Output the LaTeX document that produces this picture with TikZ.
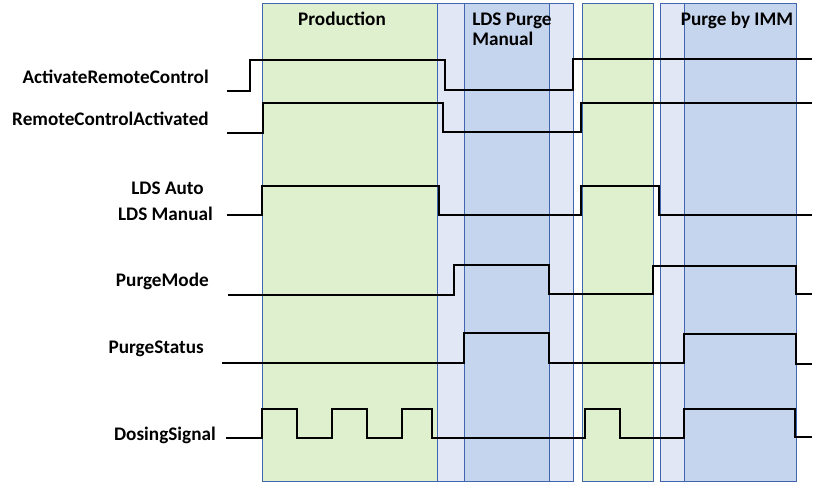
\documentclass[tikz,border=0pt]{standalone}
\usepackage{fontspec}
\setmainfont{Carlito}
\usetikzlibrary{positioning}
\definecolor{prodgreen}{HTML}{DFF0CF}
\definecolor{purgeblue}{HTML}{C6D5EE}
\definecolor{gapblue}{HTML}{E1E7F5}
\definecolor{edgeblue}{HTML}{3F66AE}

\begin{document}
\begin{tikzpicture}[
    x=0.75pt,
    y=-0.75pt,
    font=\fontsize{14.4}{15}\selectfont\bfseries,
    phase/.style={
        draw=edgeblue,
        line width=0.75pt
    },
    greenphase/.style={phase, fill=prodgreen},
    bluephase/.style={phase, fill=purgeblue},
    gapphase/.style={phase, fill=gapblue},
    signal/.style={
        draw=black,
        line width=1.8pt,
        line join=miter
    },
    siglabel/.style={anchor=base east, inner sep=0pt},
    phaselabel/.style={inner sep=0pt}
]

\useasboundingbox (0,0) rectangle (813,482);

% -----------------------------------------------------
% Faser
% -----------------------------------------------------

\foreach \xa/\xb/\kind in {262/437/greenphase, 437/464/gapphase,
    464/549/bluephase, 549/573/gapphase, 582/653/greenphase,
    660/684/gapphase, 684/796/bluephase}
    \path[\kind] (\xa,3) rectangle (\xb,481);

\node[phaselabel, anchor=base] (production) at (342,25) {Production};
\node[phaselabel, anchor=west, align=left] (ldspurge) at (472,29)
{
    LDS Purge\\
    Manual
};
\node[phaselabel, anchor=base] (purgeimm) at (737,25) {Purge by IMM};

% -----------------------------------------------------
% Signalnavne
% -----------------------------------------------------

\node[siglabel] (activate) at (209,83) {ActivateRemoteControl};
\node[siglabel] (activated) at (209,125) {RemoteControlActivated};
\node[siglabel] (ldsauto) at (204,194) {LDS Auto};
\node[siglabel] (ldsmanual) at (213,220) {LDS Manual};
\node[siglabel] (purgemode) at (209,286) {PurgeMode};
\node[siglabel] (purgestatus) at (204,353) {PurgeStatus};
\node[siglabel] (dosing) at (216,440) {DosingSignal};

% -----------------------------------------------------
% Signalforløb
% -----------------------------------------------------

\draw[signal] (227,91) -| (250,60) -| (445,90) -| (573,59) -- (812,59);

\draw[signal] (227,133) -| (263,103) -| (443,132) -| (581,103) -- (812,103);

\draw[signal] (227,215) -| (262,186) -| (439,215) -| (581,186)
    -| (659,215) -- (812,215);

\draw[signal] (228,295) -| (454,265) -| (549,294) -| (653,266)
    -| (796,294) -- (812,294);

\draw[signal] (222,363) -| (464,333) -| (549,363) -| (684,334)
    -| (796,364) -- (812,364);

% Doseringspulser
\draw[signal] (226,438) -| (262,409) -| (297,438) -| (332,409)
    -| (367,438) -| (402,409) -| (432,438) -| (585,409)
    -| (620,438) -| (684,409) -| (795,437) -- (812,437);

\end{tikzpicture}
\end{document}
